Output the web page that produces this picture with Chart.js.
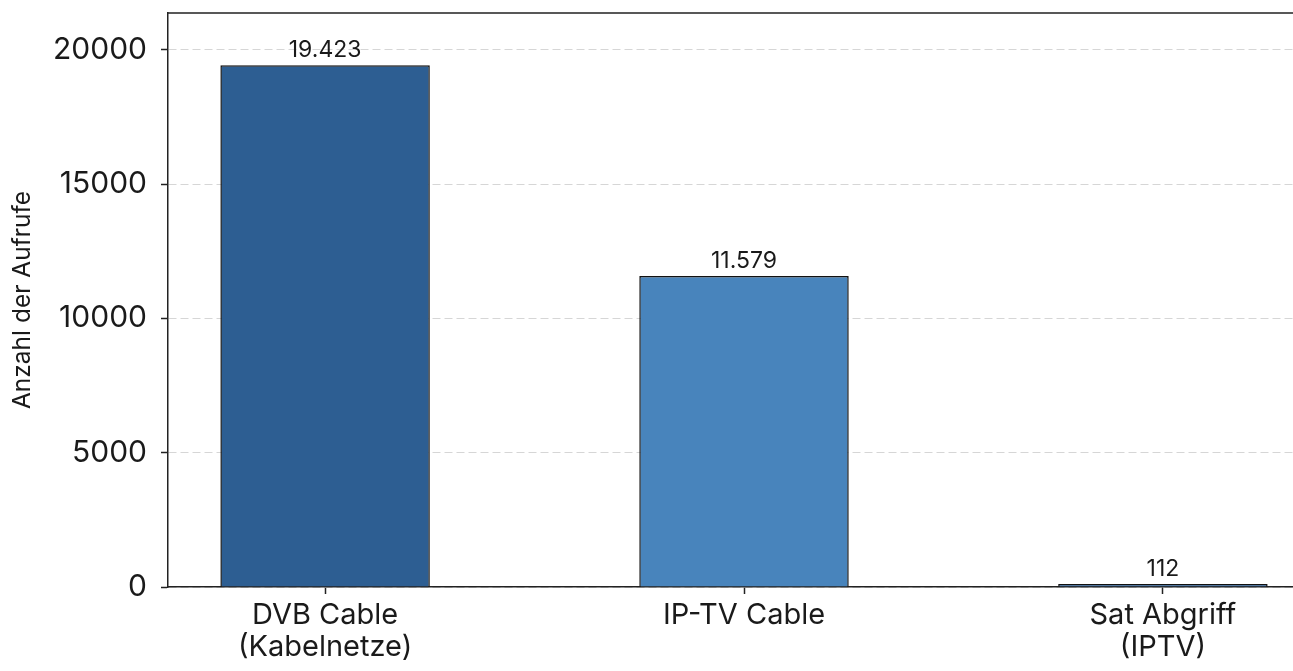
<!DOCTYPE html>
<html>
<head>
<meta charset="utf-8">
<script src="https://cdn.jsdelivr.net/npm/chart.js@4"></script>
<style>
  html, body { margin: 0; padding: 0; background: #fff; overflow: hidden; }
  #wrap { width: 1330px; height: 671px; position: relative; }
</style>
</head>
<body>
<div id="wrap"><canvas id="viewsChart"></canvas></div>
<script>
// Data
const categories = [['DVB Cable', '(Kabelnetze)'], 'IP-TV Cable', ['Sat Abgriff', '(IPTV)']];
const views = [19423, 11579, 112];
const barColors = ['#2d5e92', '#4884bc', '#2d5e92'];
const yTicks = [0, 5000, 10000, 15000, 20000];

const fontFamily = 'Inter, "Open Sans", sans-serif';

// German thousands separator
function formatDe(v) {
    return String(v).replace(/\B(?=(\d{3})+(?!\d))/g, '.');
}

// Value labels above the bars
const valueLabels = {
    id: 'valueLabels',
    afterDatasetsDraw(chart) {
        const ctx = chart.ctx;
        const meta = chart.getDatasetMeta(0);
        ctx.save();
        ctx.font = '23px ' + fontFamily;
        ctx.fillStyle = '#1a1a1a';
        ctx.textAlign = 'center';
        ctx.textBaseline = 'alphabetic';
        meta.data.forEach((bar, i) => {
            ctx.fillText(formatDe(views[i]), bar.x, bar.y - 8);
        });
        ctx.restore();
    }
};

// Top and right spines
const frame = {
    id: 'frame',
    afterDraw(chart) {
        const a = chart.chartArea;
        const ctx = chart.ctx;
        ctx.save();
        ctx.strokeStyle = '#222';
        ctx.lineWidth = 1.5;
        ctx.beginPath();
        ctx.moveTo(a.left, a.top);
        ctx.lineTo(a.right, a.top);
        ctx.lineTo(a.right, a.bottom);
        ctx.stroke();
        ctx.restore();
    }
};

new Chart(document.getElementById('viewsChart'), {
    type: 'bar',
    data: {
        datasets: [{
            data: views.map((v, i) => ({ x: i, y: v })),
            backgroundColor: barColors,
            borderColor: '#111',
            borderWidth: 1.5,
            barPercentage: 0.5,
            categoryPercentage: 1
        }]
    },
    options: {
        responsive: true,
        maintainAspectRatio: false,
        animation: false,
        layout: { padding: { top: 13, right: 10, left: 0, bottom: 0 } },
        plugins: {
            legend: { display: false },
            tooltip: { enabled: false }
        },
        scales: {
            x: {
                type: 'linear',
                offset: false,
                min: -0.375,
                max: 2.375,
                afterBuildTicks: axis => { axis.ticks = categories.map((c, i) => ({ value: i })); },
                afterFit: axis => {
                    axis.height = 84;
                    axis.paddingLeft = 0;
                    axis.paddingRight = 0;
                },
                ticks: {
                    callback: v => categories[v],
                    color: '#1a1a1a',
                    font: { family: fontFamily, size: 29, lineHeight: 1.12 },
                    padding: 5,
                    maxRotation: 0,
                    autoSkip: false
                },
                grid: {
                    offset: false,
                    drawOnChartArea: false,
                    drawTicks: true,
                    tickLength: 7,
                    tickColor: '#222',
                    tickWidth: 1.5
                },
                border: { display: true, color: '#222', width: 1.5 }
            },
            y: {
                min: 0,
                max: 21365,
                afterBuildTicks: axis => { axis.ticks = yTicks.map(v => ({ value: v })); },
                afterFit: axis => {
                    axis.width = 168;
                    axis.paddingTop = 0;
                    axis.paddingBottom = 0;
                },
                ticks: {
                    callback: v => String(v),
                    color: '#1a1a1a',
                    font: { family: fontFamily, size: 30 },
                    padding: 14
                },
                title: {
                    display: true,
                    text: 'Anzahl der Aufrufe',
                    color: '#1a1a1a',
                    font: { family: fontFamily, size: 24.5 },
                    padding: { top: 8, bottom: 4 }
                },
                grid: {
                    color: '#d6d6d6',
                    lineWidth: 1,
                    tickColor: '#222',
                    tickWidth: 1.5,
                    tickLength: 7,
                    tickBorderDash: []
                },
                border: { display: true, color: '#222', width: 1.5, dash: [8, 4] }
            }
        }
    },
    plugins: [valueLabels, frame]
});
</script>
</body>
</html>
